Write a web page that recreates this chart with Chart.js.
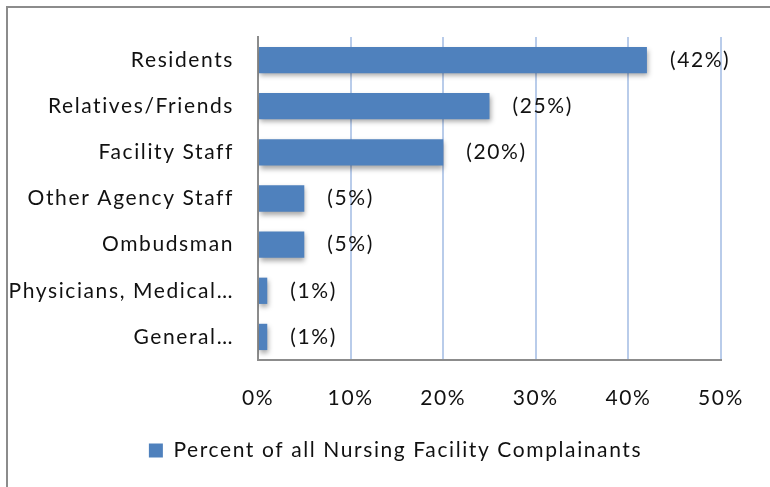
<!DOCTYPE html>
<html>
<head>
<meta charset="utf-8">
<script src="https://cdn.jsdelivr.net/npm/chart.js@4.4.1/dist/chart.umd.min.js"></script>
<style>
  html, body { margin: 0; padding: 0; background: #fff; }
  #wrap { width: 770px; height: 487px; position: relative; }
</style>
</head>
<body>
<div id="wrap"><canvas id="complainants-chart" width="770" height="487"></canvas></div>
<script>
const categories = ['Residents', 'Relatives/Friends', 'Facility Staff', 'Other Agency Staff', 'Ombudsman', 'Physicians, Medical\u2026', 'General\u2026'];
const percentValues = [42, 25, 20, 5, 5, 1, 1];
const seriesName = 'Percent of all Nursing Facility Complainants';
const xTicks = [0, 10, 20, 30, 40, 50];

const FONT = 'Lato, "Liberation Sans", sans-serif';
const FONT_SIZE = 21;
const SPACING = '1.6px';

// wide Office-style text: letter spacing on the shared context
const textSpacing = {
  id: 'textSpacing',
  beforeLayout(chart) { chart.ctx.letterSpacing = SPACING; },
  beforeDraw(chart) { chart.ctx.letterSpacing = SPACING; }
};

// outer frame of the chart object, legend nudged to sit under the whole chart
const framePlugin = {
  id: 'frame',
  beforeDraw(chart) {
    const ctx = chart.ctx;
    ctx.save();
    ctx.strokeStyle = '#8c8c8c';
    ctx.lineWidth = 2;
    ctx.strokeRect(7, 7, 800, 800);
    ctx.restore();
    if (!chart.legend._shifted) {
      chart.legend.left += 32;
      chart.legend.right += 32;
      chart.legend._shifted = true;
    }
  }
};

// soft shadow under the bars
const barShadow = {
  id: 'barShadow',
  beforeDatasetsDraw(chart) {
    const ctx = chart.ctx;
    ctx.save();
    ctx.shadowColor = 'rgba(0,0,0,0.35)';
    ctx.shadowBlur = 5;
    ctx.shadowOffsetX = 1;
    ctx.shadowOffsetY = 3;
  },
  afterDatasetsDraw(chart) {
    chart.ctx.restore();
  }
};

// "(42%)" labels to the right of each bar
const valueLabels = {
  id: 'valueLabels',
  afterDatasetsDraw(chart) {
    const ctx = chart.ctx;
    const meta = chart.getDatasetMeta(0);
    ctx.save();
    ctx.font = FONT_SIZE + 'px ' + FONT;
    ctx.fillStyle = '#111';
    ctx.textAlign = 'left';
    ctx.textBaseline = 'middle';
    meta.data.forEach((bar, i) => {
      ctx.fillText('(' + percentValues[i] + '%)', bar.x + 23, bar.y);
    });
    ctx.restore();
  }
};

new Chart(document.getElementById('complainants-chart').getContext('2d'), {
  type: 'bar',
  data: {
    labels: categories,
    datasets: [{
      label: seriesName,
      data: percentValues,
      backgroundColor: '#4F81BD',
      borderWidth: 0,
      categoryPercentage: 1,
      barPercentage: 0.57
    }]
  },
  options: {
    indexAxis: 'y',
    responsive: false,
    animation: false,
    layout: {
      padding: { top: 37, right: 43, left: 0, bottom: 16 }
    },
    scales: {
      x: {
        min: 0,
        max: 50,
        afterBuildTicks: scale => { scale.ticks = xTicks.map(v => ({ value: v })); },
        afterFit: scale => { scale.height = 70; },
        grid: {
          color: ctx => ctx.tick && ctx.tick.value === 0 ? 'rgba(0,0,0,0)' : '#B9CCEA',
          lineWidth: 2,
          drawTicks: false
        },
        border: { color: '#8c8c8c', width: 2 },
        ticks: {
          padding: 26,
          color: '#111',
          font: { size: FONT_SIZE, family: FONT },
          callback: v => v + '%'
        }
      },
      y: {
        afterFit: scale => { scale.width = 258; },
        grid: { display: false, drawTicks: false },
        border: { color: '#8c8c8c', width: 2 },
        ticks: {
          padding: 24,
          color: '#111',
          font: { size: FONT_SIZE, family: FONT }
        }
      }
    },
    plugins: {
      legend: {
        position: 'bottom',
        labels: {
          boxWidth: 14,
          boxHeight: 14,
          padding: 10,
          color: '#111',
          font: { size: FONT_SIZE, family: FONT }
        }
      },
      tooltip: { enabled: false }
    }
  },
  plugins: [textSpacing, framePlugin, barShadow, valueLabels]
});
</script>
</body>
</html>
